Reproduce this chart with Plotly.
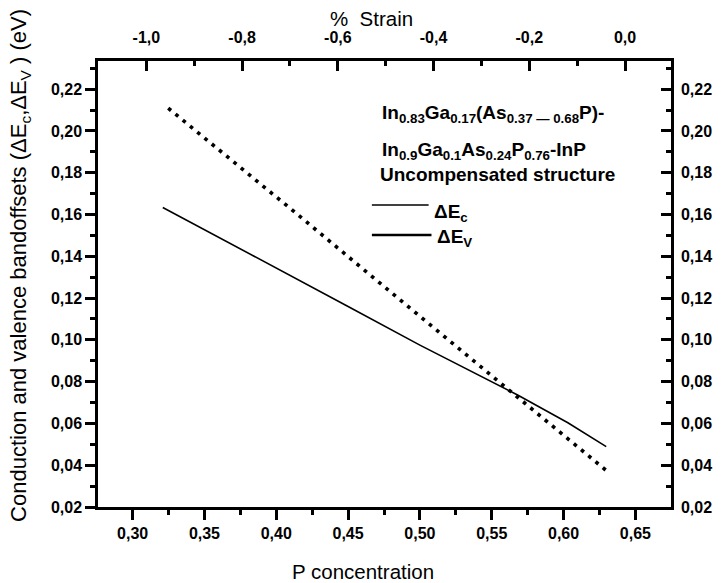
import plotly.graph_objects as go

# Data
p_conc_c = [0.321, 0.40, 0.45, 0.50, 0.5677, 0.603, 0.6297]
delta_ec = [0.1634, 0.1345, 0.1160, 0.0975, 0.0737, 0.0603, 0.0489]
p_conc_v = [0.3248, 0.408, 0.50, 0.5734, 0.630]
delta_ev = [0.2109, 0.1639, 0.1113, 0.0697, 0.0373]

x_range = [0.2759, 0.6748]
strain_range = [-1.101, 0.096]
strain_ticks = [-1.0, -0.8, -0.6, -0.4, -0.2, 0.0]
strain_labels = ["-1,0", "-0,8", "-0,6", "-0,4", "-0,2", "0,0"]
y_range = [0.02, 0.2335]

FONT = "Liberation Sans, Arial, sans-serif"

fig = go.Figure()
fig.add_trace(go.Scatter(x=p_conc_c, y=delta_ec, mode="lines",
                         line=dict(color="black", width=1.6), showlegend=False))
fig.add_trace(go.Scatter(x=p_conc_v, y=delta_ev, mode="lines",
                         line=dict(color="black", width=3.6, dash="3.6px,5.8px"), showlegend=False))

tickfont = dict(family=FONT, size=16, color="black", weight="bold")
common = dict(showgrid=False, zeroline=False, showline=True, linecolor="black",
              linewidth=2.5, tickcolor="black", tickwidth=2.5, ticklen=10)

def minor(dt, t0, side):
    return dict(dtick=dt, tick0=t0, ticks=side, ticklen=5, tickcolor="black", tickwidth=2.5)

fig.update_layout(
    width=724, height=583,
    margin=dict(l=98, r=47, t=61, b=76),
    paper_bgcolor="white", plot_bgcolor="white",
    separators=", ",
    showlegend=False,
    xaxis=dict(range=x_range, dtick=0.05, tick0=0.3, tickformat=".2f", ticks="outside",
               tickfont=tickfont, minor=minor(0.025, 0.3, "outside"),
               **common),
    xaxis2=dict(range=strain_range, tickmode="array", tickvals=strain_ticks, ticktext=strain_labels,
                ticks="inside", overlaying="x", side="top", anchor="y", tickfont=tickfont,
                minor=minor(0.1, 0, "inside"), ticklabelstandoff=9,
                **common),
    yaxis=dict(range=y_range, dtick=0.02, tick0=0.02, tickformat=".2f", ticks="outside",
               tickfont=tickfont, minor=minor(0.01, 0.02, "outside"),
               **common),
    yaxis2=dict(range=y_range, dtick=0.02, tick0=0.02, tickformat=".2f", ticks="inside",
                overlaying="y", side="right", anchor="x", tickfont=tickfont,
                minor=minor(0.01, 0.02, "inside"), ticklabelstandoff=4,
                **common),
)

# invisible helper traces so the secondary axes are rendered
fig.add_trace(go.Scatter(x=strain_range, y=y_range, xaxis="x2", yaxis="y",
                         mode="markers", marker=dict(opacity=0), hoverinfo="skip", showlegend=False))
fig.add_trace(go.Scatter(x=x_range, y=y_range, xaxis="x", yaxis="y2",
                         mode="markers", marker=dict(opacity=0), hoverinfo="skip", showlegend=False))

tfont = dict(family=FONT, size=20.5, color="black")
# axis titles
fig.add_annotation(text="Conduction and valence bandoffsets (ΔE<sub>c</sub>,ΔE<sub>V</sub> ) (eV)",
                   xref="paper", yref="paper", x=-0.135, y=0.542, textangle=-90,
                   xanchor="center", yanchor="middle", showarrow=False,
                   font=dict(family=FONT, size=22, color="black"))
fig.add_annotation(text="P concentration", xref="paper", yref="paper",
                   x=(366 - 98) / 579, y=(507 - 571) / 446,
                   xanchor="center", yanchor="middle", showarrow=False, font=tfont)
fig.add_annotation(text="%  Strain", xref="paper", yref="paper",
                   x=(374 - 98) / 579, y=(507 - 19) / 446,
                   xanchor="center", yanchor="middle", showarrow=False, font=tfont)

afont = dict(family=FONT, size=19, color="black", weight="bold")
fig.add_annotation(text="In<sub>0.83</sub>Ga<sub>0.17</sub>(As<sub>0.37 — 0.68</sub>P)-",
                   xref="paper", yref="paper", x=0.492, y=0.882,
                   xanchor="left", yanchor="middle", showarrow=False, font=afont)
fig.add_annotation(text="In<sub>0.9</sub>Ga<sub>0.1</sub>As<sub>0.24</sub>P<sub>0.76</sub>-InP",
                   xref="paper", yref="paper", x=0.492, y=0.798,
                   xanchor="left", yanchor="middle", showarrow=False, font=afont)
fig.add_annotation(text="Uncompensated structure",
                   xref="paper", yref="paper", x=0.488, y=0.745,
                   xanchor="left", yanchor="middle", showarrow=False, font=afont)
fig.add_annotation(text="ΔE<sub>c</sub>", xref="paper", yref="paper", x=0.583, y=0.660,
                   xanchor="left", yanchor="middle", showarrow=False, font=afont)
fig.add_annotation(text="ΔE<sub>V</sub>", xref="paper", yref="paper", x=0.588, y=0.604,
                   xanchor="left", yanchor="middle", showarrow=False, font=afont)
fig.add_shape(type="line", xref="paper", yref="paper", x0=0.478, x1=0.577, y0=0.677, y1=0.677,
              line=dict(color="black", width=1.6))
fig.add_shape(type="line", xref="paper", yref="paper", x0=0.478, x1=0.582, y0=0.61, y1=0.61,
              line=dict(color="black", width=2.6))

fig.write_html("out.html")
